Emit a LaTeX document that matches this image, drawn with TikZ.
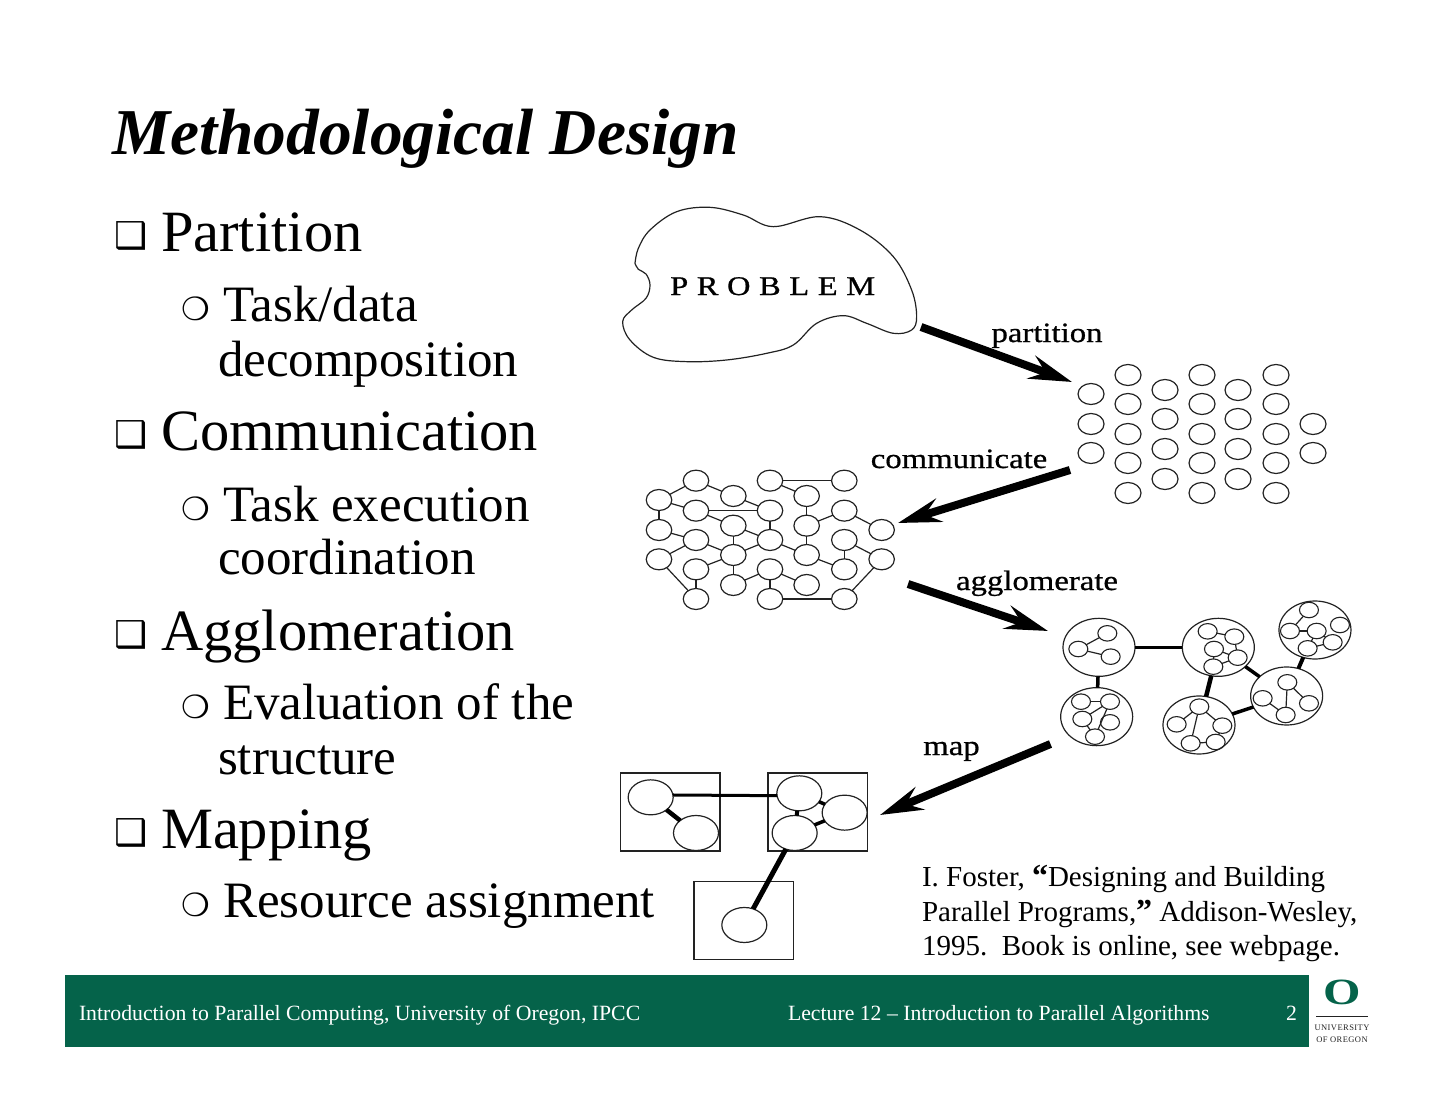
\documentclass[tikz,border=0pt]{standalone}
\usepackage{fontspec}
\setmainfont{Liberation Serif}
\newfontfamily\dejavu{DejaVu Sans}
\newfontfamily\labelfont[FakeBold=0.7,FakeStretch=1.17]{Liberation Serif}
\newfontfamily\probfont[FakeBold=0.9,FakeStretch=1.2,LetterSpace=32]{Liberation Serif}
\usetikzlibrary{arrows.meta,shapes.geometric}
\definecolor{uogreen}{HTML}{05634A}
\definecolor{inkgray}{HTML}{222222}
\newcommand{\fs}[1]{\fontsize{#1}{#1}\selectfont}
\newcommand{\bulA}{{\dejavu\fs{37}\raisebox{3pt}{❑}}}
\newcommand{\bulB}{{\dejavu\fs{32}\raisebox{1pt}{❍}}}
\tikzset{
 txt/.style={anchor=base west,inner sep=0,outer sep=0,text=black},
 lvlA/.style={txt,font=\fs{58.5}},
 lvlB/.style={txt,font=\fs{51}},
 cite/.style={txt,font=\fs{29}},
 foot/.style={txt,text=white,font=\fs{21.75}},
 steplabel/.style={anchor=base,inner sep=0,font=\labelfont\fs{28}},
 gridc/.style={ellipse,draw=inkgray,line width=1.2pt,minimum width=26pt,minimum height=21pt,inner sep=0,outer sep=0},
 commc/.style={ellipse,draw=inkgray,line width=1.2pt,minimum width=25.5pt,minimum height=21pt,inner sep=0,outer sep=0},
 bigc/.style={ellipse,draw=inkgray,line width=1.2pt,minimum width=72pt,minimum height=58pt,inner sep=0,outer sep=0},
 innerc/.style={ellipse,draw=inkgray,line width=1.1pt,minimum width=19pt,minimum height=15.5pt,inner sep=0,outer sep=0},
 mapc/.style={ellipse,draw=inkgray,line width=1.2pt,minimum width=45pt,minimum height=35pt,inner sep=0,outer sep=0},
 procbox/.style={rectangle,draw=inkgray,line width=1.2pt,minimum width=99.5pt,minimum height=78pt,inner sep=0,outer sep=0},
 edge/.style={draw=inkgray,line width=1.2pt},
 flow/.style={line width=8pt,draw=black,-{Stealth[length=43pt,width=24pt,inset=15pt]}},
}
\begin{document}
\begin{tikzpicture}[x=1pt,y=-1pt]
\useasboundingbox (0,0) rectangle (1440,1113);
% title
\node[txt,font=\fs{65.4}\bfseries\itshape] (title) at (112,154) {Methodological Design};
% bullets
\node[lvlA] (bA1) at (114,251) {\bulA};
\node[lvlA] (tA1) at (161,251) {Partition};
\node[lvlB] (bB1) at (181,321) {\bulB};
\node[lvlB] (tB1) at (223,321) {Task/data};
\node[lvlB] (tB1b) at (218,376) {decomposition};
\node[lvlA] (bA2) at (114,450) {\bulA};
\node[lvlA] (tA2) at (161,450) {Communication};
\node[lvlB] (bB2) at (181,521) {\bulB};
\node[lvlB] (tB2) at (223,521) {Task execution};
\node[lvlB] (tB2b) at (218,574) {coordination};
\node[lvlA] (bA3) at (114,650) {\bulA};
\node[lvlA] (tA3) at (161,650) {Agglomeration};
\node[lvlB] (bB3) at (181,719) {\bulB};
\node[lvlB] (tB3) at (223,719) {Evaluation of the};
\node[lvlB] (tB3b) at (218,774) {structure};
\node[lvlA] (bA4) at (114,848) {\bulA};
\node[lvlA] (tA4) at (161,848) {Mapping};
\node[lvlB] (bB4) at (181,917) {\bulB};
\node[lvlB] (tB4) at (223,917) {Resource assignment};
% problem cloud
\begin{scope}[shift={(610,200)},x=0.3333pt,y=-0.3333pt]
\draw[draw=inkgray,line width=1.2pt,smooth,tension=0.6] plot coordinates {(75,190)(85,208)(108,222)(120,255)(108,295)(65,330)(38,365)(60,420)(130,472)(230,485)(350,480)(470,460)(550,435)(620,370)(700,347)(770,370)(850,400)(905,390)(920,350)(905,270)(850,170)(750,90)(630,50)(490,80)(400,45)(300,22)(200,35)(120,90)(85,145)(75,190)};
\end{scope}
\node[anchor=base west,inner sep=0,font=\probfont\fs{27}] (problem) at (670,295) {PROBLEM};
% fine grain tasks
\foreach \n/\x in {1/1128,2/1202,3/1276}{
 \foreach \m/\y in {1/375,2/404,3/434,4/463,5/493}{
  \node[gridc] (gA\n\m) at (\x,\y) {};
 }}
\foreach \n/\x in {1/1165,2/1238}{
 \foreach \m/\y in {1/390,2/419,3/449,4/479}{
  \node[gridc] (gB\n\m) at (\x,\y) {};
 }}
\foreach \m/\y in {1/394,2/424,3/453}{\node[gridc] (gC\m) at (1091,\y) {};}
\foreach \m/\y in {1/424,2/453}{\node[gridc] (gD\m) at (1313,\y) {};}
% communication graph
\begin{scope}[shift={(635,460)},x=0.3333pt,y=-0.3333pt]
\foreach \n/\x/\y in {a/183/62,b/72/120,c/295/108,d/183/152,e/72/210,f/183/240,g/72/298,h/295/197,i/405/62,j/405/152,k/515/108,l/628/62,m/515/197,n/628/152,o/740/210,p/405/240,q/295/285,r/515/285,s/628/240,t/740/298,u/628/328,v/183/328,w/405/328,x/295/375,y/515/375,z/183/417,A/405/417,B/628/417}{
 \node[commc] (k\n) at (\x,\y) {};
}
\end{scope}
\foreach \p/\q in {a/b,a/c,b/d,b/e,c/j,d/j,d/h,e/f,f/g,f/q,h/p,h/q,j/p,p/q,p/r,i/l,i/k,k/m,m/n,m/r,n/o,r/u,s/u,s/t,t/B,q/v,q/x,v/z,g/z,x/w,w/y,w/A,A/B}{
 \draw[edge] (k\p) -- (k\q);
}
% agglomerated
\begin{scope}[shift={(1050,590)},x=0.3333pt,y=-0.3333pt]
\foreach \n/\x/\y in {A/147/172,B/505/172,C/795/120,D/710/318,E/140/380,F/447/405}{\node[bigc] (big\n) at (\x,\y) {};}
\foreach \n/\x/\y in {a1/172/130,a2/85/177,a3/182/200,
 b1/473/124,b2/553/140,b3/492/177,b4/563/203,b5/490/230,
 c1/777/60,c2/720/123,c3/800/123,c4/870/105,c5/848/157,c6/773/175,
 d1/712/277,d2/638/325,d3/707/375,d4/777/340,
 e1/93/335,e2/180/335,e3/97/387,e4/180/397,e5/135/440,
 f1/448/350,f2/380/403,f3/517/407,f4/422/460,f5/497/456}{\node[innerc] (in\n) at (\x,\y) {};}
\end{scope}
\foreach \p/\q in {a2/a1,a2/a3,b1/b2,b2/b4,b3/b4,b5/b4,b5/b3,c1/c2,c2/c3,c3/c5,c3/c6,c6/c5,d1/d3,d1/d4,d2/d3,e1/e2,e3/e2,e5/e3,e5/e2,f1/f2,f1/f3,f1/f4,f4/f5,f3/f5}{
 \draw[edge] (in\p) -- (in\q);
}
\draw[line width=2.6pt] (bigA) -- (bigB);
\draw[line width=3.5pt] (bigA) -- (bigE);
\draw[line width=4.5pt] (bigF) -- (bigB);
\draw[line width=3.5pt] (bigB) -- (bigD);
\draw[line width=4pt] (bigC) -- (bigD);
\draw[line width=3.5pt] (bigF) -- (bigD);
% mapping
\node[procbox] (boxA) at (670.3,812) {};
\node[procbox] (boxB) at (817.7,812) {};
\node[procbox] (boxC) at (743.7,920.5) {};
\begin{scope}[shift={(610,760)},x=0.3333pt,y=-0.3333pt]
\foreach \n/\x/\y in {a/122/112,b/258/219,c/568/100,d/704/158,e/554/219,f/403/495}{\node[mapc] (map\n) at (\x,\y) {};}
\end{scope}
\draw[line width=3pt] (mapa.6) -- (mapc.186);
\draw[line width=4.5pt] (mapa) -- (mapb);
\draw[line width=4pt] (mapc) -- (mape);
\draw[line width=3.5pt] (mapc) -- (mapd);
\draw[line width=3.5pt] (mapd) -- (mape);
\draw[line width=5pt] (mape) -- (mapf);
% flow arrows
\coordinate (s1) at (921,327); \coordinate (e1) at (1072,382);
\coordinate (s2) at (1070,470); \coordinate (e2) at (898,523);
\coordinate (s3) at (908,584); \coordinate (e3) at (1048,631);
\coordinate (s4) at (1050.5,744); \coordinate (e4) at (880,815);
\draw[flow] (s1) -- (e1);
\draw[flow] (s2) -- (e2);
\draw[flow] (s3) -- (e3);
\draw[flow] (s4) -- (e4);
\node[steplabel] (l1) at (1047,342) {partition};
\node[steplabel] (l2) at (959,468) {communicate};
\node[steplabel] (l3) at (1037,590) {agglomerate};
\node[steplabel] (l4) at (951.5,755) {map};
% citation
\node[cite] (c1) at (922,886) {I. Foster, {\bfseries\fs{32}“}Designing and Building};
\node[cite] (c2) at (922,921) {Parallel Programs,{\bfseries\fs{32}”} Addison-Wesley,};
\node[cite] (c3) at (922,955) {1995.\ \ Book is online, see webpage.};
% footer
\fill[uogreen] (65,975) rectangle (1309,1047);
\node[foot] (f1) at (79,1020) {Introduction to Parallel Computing, University of Oregon, IPCC};
\node[foot] (f2) at (788,1020) {Lecture 12 – Introduction to Parallel Algorithms};
\node[foot] (f3) at (1286,1020) {2};
% logo
\node[inner sep=0,text=uogreen,font=\fs{37}\bfseries,xscale=1.3] (logo) at (1342,992) {O};
\draw[inkgray,line width=0.8pt] (1316,1016.5) -- (1368,1016.5);
\node[inner sep=0,font=\fs{8.5}\addfontfeature{LetterSpace=5},text=inkgray] (u1) at (1342,1028) {UNIVERSITY};
\node[inner sep=0,font=\fs{8.5}\addfontfeature{LetterSpace=5},text=inkgray] (u2) at (1342,1040) {OF OREGON};
\end{tikzpicture}
\end{document}
